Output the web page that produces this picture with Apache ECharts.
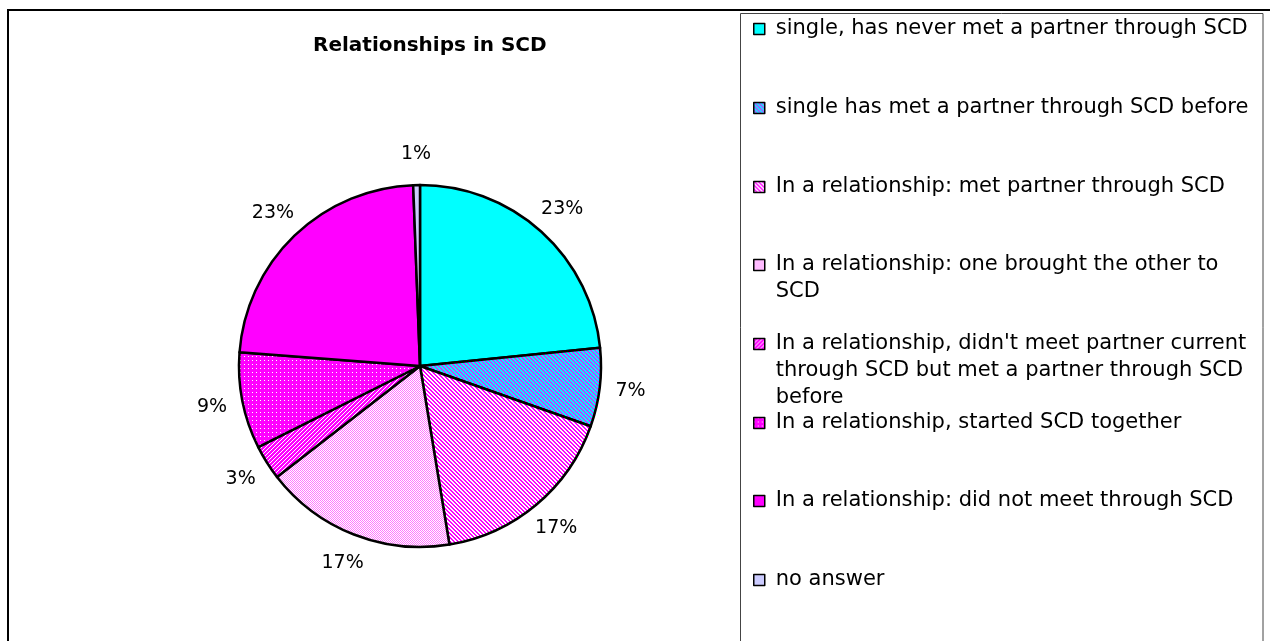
<!DOCTYPE html>
<html><head><meta charset="utf-8">
<script src="https://cdn.jsdelivr.net/npm/echarts@6/dist/echarts.min.js"></script>
<style>html,body{margin:0;padding:0;background:#fff}#c{width:1270px;height:641px}</style>
</head><body><div id="c"></div>
<script>
// ---- data ----
const categories = [
  'single, has never met a partner through SCD',
  'single has met a partner through SCD before',
  'In a relationship: met partner through SCD',
  'In a relationship: one brought the other to SCD',
  "In a relationship, didn't meet partner current through SCD but met a partner through SCD before",
  'In a relationship, started SCD together',
  'In a relationship: did not meet through SCD',
  'no answer'
];
const values = [23.4, 7.0, 17.0, 17.1, 3.1, 8.6, 23.2, 0.6];
const titleText = 'Relationships in SCD';

// ---- layout (not data) ----
const legendIconY = [29, 108, 187, 265, 344, 423, 501, 580];
const legendLines = [1, 1, 1, 2, 3, 1, 1, 1];
const FONT = 'DejaVu Sans';

function tile(w, h, bg, fg, on) {
  const c = document.createElement('canvas'); c.width = w; c.height = h;
  const g = c.getContext('2d'); g.fillStyle = bg; g.fillRect(0, 0, w, h); g.fillStyle = fg;
  for (let y = 0; y < h; y++) for (let x = 0; x < w; x++) if (on(x, y)) g.fillRect(x, y, 1, 1);
  return { image: c, repeat: 'repeat' };
}
const fills = [
  '#00FFFF',
  tile(4, 4, '#00FFFF', '#C040FF', (x, y) => ((x - y + 8) % 4) < 2),
  tile(4, 4, '#FFFFFF', '#FF00FF', (x, y) => ((x - y + 8) % 4) < 2),
  tile(2, 2, '#FFFFFF', '#FF77FF', (x, y) => (x + y) % 2 === 0),
  tile(4, 4, '#FF00FF', '#FFFFFF', (x, y) => (x + y) % 4 === 0),
  tile(4, 4, '#FF00FF', '#FFFFFF', (x, y) => x === 0 && y === 0),
  '#FF00FF',
  '#CCCCFF'
];

const chart = echarts.init(document.getElementById('c'), null, { renderer: 'canvas' });
const pieData = categories.map((n, i) => ({ name: n, value: values[i], itemStyle: { color: fills[i] } }));
const labelData = categories.map((n, i) => ({ name: n, value: values[i] }));

chart.setOption({
  animation: false,
  backgroundColor: '#fff',
  title: {
    text: titleText, left: 313, top: 36, padding: 0,
    textStyle: { fontFamily: FONT, fontSize: 20, fontWeight: 'bold', color: '#000' }
  },
  graphic: [
    { type: 'rect', silent: true, z: 0, shape: { x: 8, y: 10, width: 1300, height: 700 }, style: { fill: 'none', stroke: '#000', lineWidth: 2 } },
    { type: 'rect', silent: true, z: 0, shape: { x: 740.5, y: 13.5, width: 522.5, height: 700 }, style: { fill: 'none', stroke: '#444', lineWidth: 1 } }
  ],
  legend: categories.map((name, i) => ({
    data: [name], orient: 'vertical', left: 753,
    top: legendIconY[i] - (2 * legendLines[i] - 1) * 13.5,
    padding: 0, itemWidth: 11, itemHeight: 11, icon: 'rect', selectedMode: false,
    itemStyle: { borderColor: '#000', borderWidth: 1.5 },
    formatter: n => '\n'.repeat(legendLines[i] - 1) + n,
    textStyle: {
      fontFamily: FONT, fontSize: 21, color: '#000', lineHeight: 27,
      width: 482, overflow: 'break', padding: [0, 0, 0, 6]
    }
  })),
  series: [
    {
      type: 'pie', center: [420, 366], radius: 181, startAngle: 90, clockwise: true,
      data: pieData, label: { show: false }, labelLine: { show: false },
      itemStyle: { borderColor: '#000', borderWidth: 2.5 },
      emphasis: { disabled: true }
    },
    {
      type: 'pie', center: [420, 366], radius: [196, 222], startAngle: 90, clockwise: true,
      data: labelData, silent: true, legendHoverLink: false,
      itemStyle: { color: 'rgba(0,0,0,0)', borderWidth: 0 },
      label: {
        show: true, position: 'inside', color: '#000', fontFamily: FONT, fontSize: 19,
        formatter: p => Math.round(p.percent) + '%'
      },
      labelLine: { show: false },
      emphasis: { disabled: true }
    }
  ]
});
</script>
</body></html>
